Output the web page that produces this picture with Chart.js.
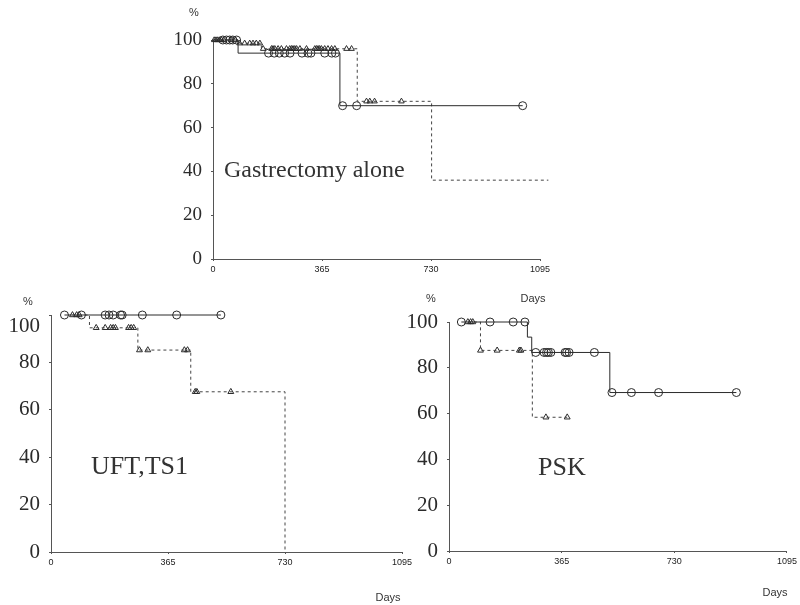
<!DOCTYPE html>
<html>
<head>
<meta charset="utf-8">
<script src="https://cdn.jsdelivr.net/npm/chart.js@4.4.1/dist/chart.umd.min.js"></script>
<style>
  html, body { margin: 0; padding: 0; background: #fff; }
  #wrap { position: relative; width: 800px; height: 605px; overflow: hidden; background: #fff; }
  canvas { position: absolute; left: 0; top: 0; }
  .t { position: absolute; white-space: nowrap; color: #333; line-height: 1; }
  .small { font-family: "Liberation Sans", Arial, sans-serif; font-size: 11px; transform: translate(-50%, -50%); }
  .title { font-family: "Liberation Serif", "Times New Roman", serif; }
</style>
</head>
<body>
<div id="wrap">
  <canvas id="c1" width="800" height="605"></canvas>
  <canvas id="c2" width="800" height="605"></canvas>
  <canvas id="c3" width="800" height="605"></canvas>

  <div class="t small" style="left:194px;top:12px;">%</div>
  <div class="t small" style="left:533px;top:298px;">Days</div>
  <div class="t small" style="left:28px;top:301px;">%</div>
  <div class="t small" style="left:388px;top:597px;">Days</div>
  <div class="t small" style="left:431px;top:298px;">%</div>
  <div class="t small" style="left:775px;top:592px;">Days</div>

  <div class="t title" style="left:224px;top:157px;font-size:24px;">Gastrectomy alone</div>
  <div class="t title" style="left:91px;top:453px;font-size:26px;">UFT,TS1</div>
  <div class="t title" style="left:538px;top:454px;font-size:26px;">PSK</div>
</div>
<script>
// ---------- Data (days, survival %) ----------
const xTicks = [0, 365, 730, 1095];
const yTicks = [0, 20, 40, 60, 80, 100];

// Gastrectomy alone
const gaSolidDays = [0, 84, 425, 1037];
const gaSolidSurv = [100, 94, 70, 70];
const gaCircleDays = [33, 45, 56, 66, 79, 186, 205, 222, 240, 258, 298, 318, 328, 374, 398, 410, 434, 481, 1037];
const gaDashDays = [0, 84, 162, 483, 732, 1123];
const gaDashSurv = [100, 98.5, 96, 72, 36, 36];
const gaTriDays = [4, 10, 16, 22, 28, 36, 60, 75, 89, 106, 123, 134, 145, 157, 168, 196, 201, 207, 218, 229, 246, 257, 263, 268, 274, 280, 291, 313, 341, 347, 352, 357, 363, 374, 385, 397, 408, 447, 464, 514, 525, 541, 631];

// UFT, TS1
const uftSolidDays = [42, 530];
const uftSolidSurv = [100, 100];
const uftCircleDays = [42, 95, 169, 181, 194, 217, 222, 285, 392, 530];
const uftDashDays = [67, 120, 271, 436, 730];
const uftDashSurv = [100, 94.6, 85.2, 67.6, 0];
const uftTriDays = [67, 80, 88, 141, 169, 186, 194, 201, 242, 250, 258, 276, 302, 416, 426, 450, 455, 561];

// PSK
const pskSolidDays = [40, 254, 268, 521, 931];
const pskSolidSurv = [100, 93.4, 86.7, 69.2, 69.2];
const pskCircleDays = [40, 133, 208, 246, 281, 308, 316, 322, 330, 376, 381, 389, 471, 528, 591, 679, 931];
const pskDashDays = [61, 102, 270, 383];
const pskDashSurv = [100, 87.6, 58.4, 58.4];
const pskTriDays = [61, 70, 77, 102, 156, 228, 233, 314, 383];

// ---------- helpers ----------
function survAt(days, surv, t) {
  let v = surv[0];
  for (let i = 0; i < days.length; i++) { if (days[i] <= t) v = surv[i]; }
  return v;
}
function pts(days, surv) { return days.map((d, i) => ({ x: d, y: surv[i] })); }
function censor(cd, days, surv) { return cd.map(d => ({ x: d, y: survAt(days, surv, d) })); }

const INK = '#2b2b2b';

function makePanel(id, area, yFont, s, opts) {
  const Wy = 60, Hx = 22;
  const datasets = [
    { data: pts(s.sd, s.ss), showLine: true, stepped: 'before', borderColor: INK, borderWidth: 1, pointRadius: 0, clip: false },
    { data: pts(s.dd, s.ds), showLine: true, stepped: 'before', borderColor: '#444', borderWidth: 1, borderDash: [3, 3], pointRadius: 0, clip: false },
    { data: censor(s.cd, s.sd, s.ss), showLine: false, pointStyle: 'circle', pointRadius: opts.cr, borderColor: INK, borderWidth: 1, backgroundColor: 'rgba(0,0,0,0)', clip: false },
    { data: censor(s.td, s.dd, s.ds), showLine: false, pointStyle: 'triangle', pointRadius: opts.tr, borderColor: INK, borderWidth: 1, backgroundColor: 'rgba(0,0,0,0)', clip: false }
  ];
  const shift100 = {
    id: 'shift100_' + id,
    afterDraw(chart) {
      if (!opts.shift100) return;
      const ys = chart.scales.y;
      const ctx = chart.ctx;
      ctx.save();
      ctx.font = yFont + 'px "Liberation Serif", serif';
      ctx.fillStyle = INK;
      ctx.textAlign = 'right';
      ctx.textBaseline = 'middle';
      ctx.fillText('100', ys.right - 11, ys.getPixelForValue(95));
      ctx.restore();
    }
  };
  new Chart(document.getElementById(id), {
    type: 'scatter',
    data: { datasets },
    plugins: [shift100],
    options: {
      responsive: false,
      animation: false,
      events: [],
      layout: { padding: { left: area.left - Wy, top: area.top, right: 800 - area.right, bottom: 605 - area.bottom - Hx } },
      plugins: { legend: { display: false }, tooltip: { enabled: false } },
      scales: {
        x: {
          type: 'linear', min: xTicks[0], max: xTicks[xTicks.length - 1],
          afterFit: sc => { sc.height = Hx; },
          afterBuildTicks: sc => { sc.ticks = xTicks.map(v => ({ value: v })); },
          ticks: { font: { family: 'Liberation Sans', size: 9 }, color: '#222', padding: 3, maxRotation: 0, autoSkip: false, callback: v => String(v) },
          grid: { display: true, drawOnChartArea: false, drawTicks: true, tickLength: 2, color: '#555' },
          border: { display: true, color: '#555', width: 1 }
        },
        y: {
          type: 'linear', min: 0, max: 100,
          afterFit: sc => { sc.width = Wy; },
          afterBuildTicks: sc => { sc.ticks = yTicks.map(v => ({ value: v })); },
          ticks: {
            font: { family: 'Liberation Serif', size: yFont }, color: INK, padding: 9,
            callback: v => (opts.shift100 && v === 100) ? '' : String(v)
          },
          grid: { display: true, drawOnChartArea: false, drawTicks: true, tickLength: 2, color: '#555' },
          border: { display: true, color: '#555', width: 1 }
        }
      }
    }
  });
}

makePanel('c1', { left: 213, right: 540, top: 40, bottom: 259 }, 19,
  { sd: gaSolidDays, ss: gaSolidSurv, cd: gaCircleDays, dd: gaDashDays, ds: gaDashSurv, td: gaTriDays },
  { cr: 4, tr: 3.2, shift100: false });
makePanel('c2', { left: 51, right: 402, top: 315, bottom: 552 }, 21,
  { sd: uftSolidDays, ss: uftSolidSurv, cd: uftCircleDays, dd: uftDashDays, ds: uftDashSurv, td: uftTriDays },
  { cr: 4, tr: 3.4, shift100: true });
makePanel('c3', { left: 449, right: 788, top: 322, bottom: 551 }, 21,
  { sd: pskSolidDays, ss: pskSolidSurv, cd: pskCircleDays, dd: pskDashDays, ds: pskDashSurv, td: pskTriDays },
  { cr: 4, tr: 3.4, shift100: false });
</script>
</body>
</html>
